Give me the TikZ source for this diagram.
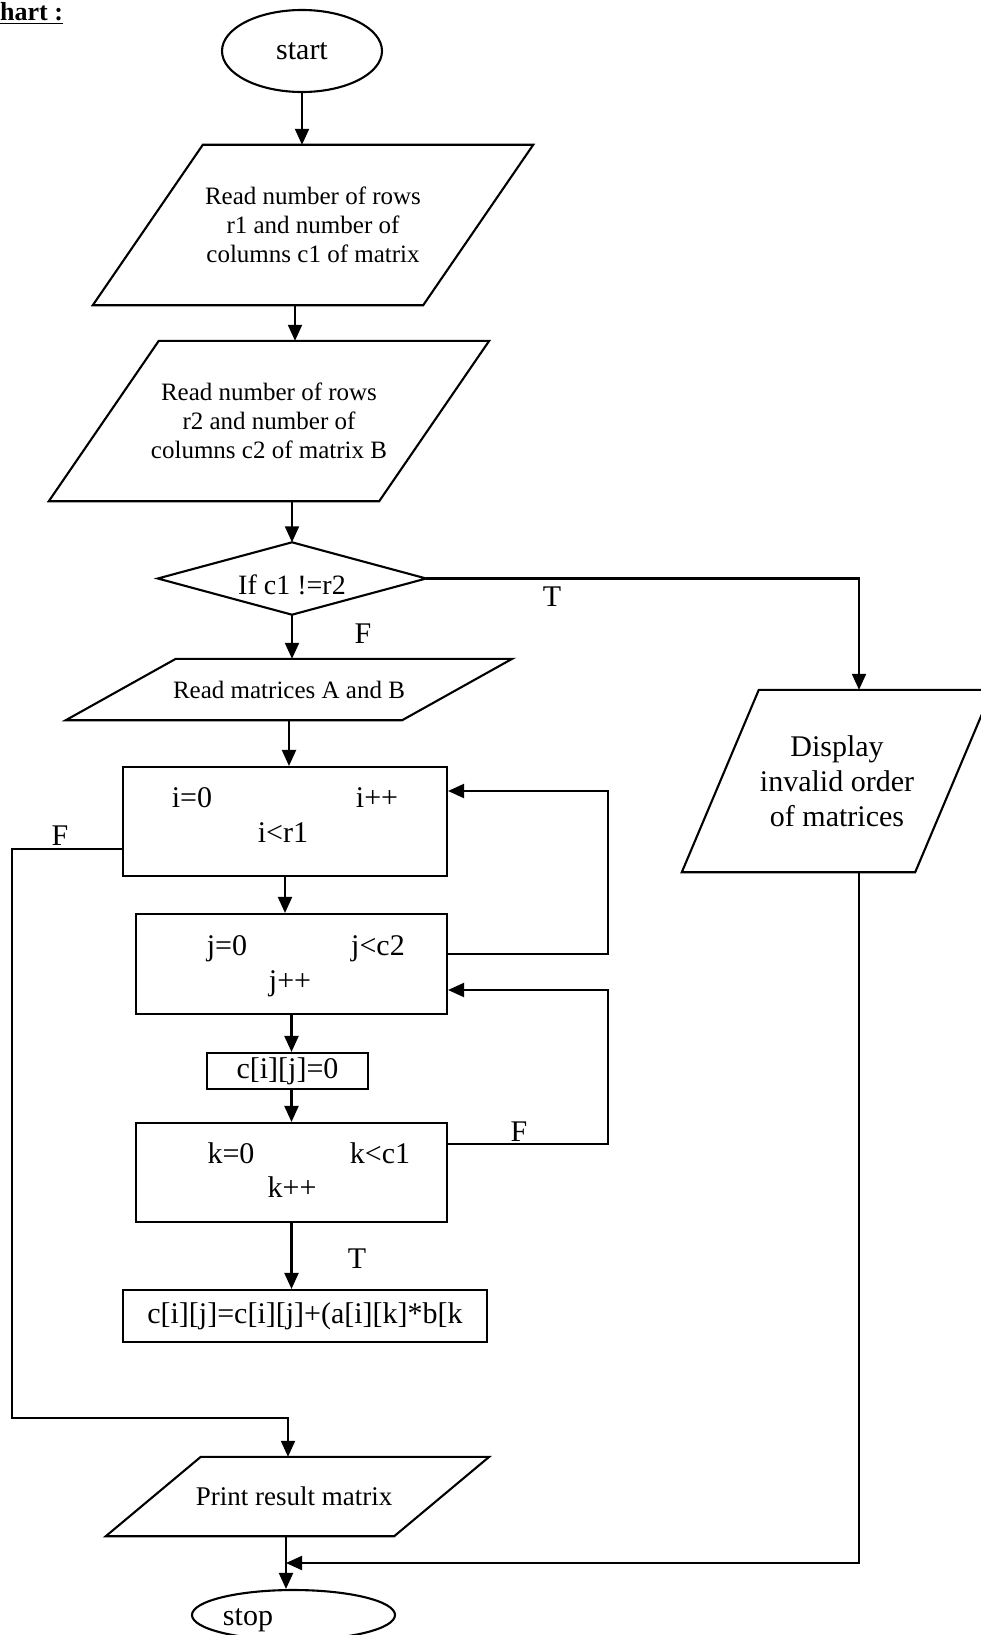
\documentclass[tikz,border=0pt]{standalone}
\usepackage{fontspec}
\setmainfont{Liberation Serif}
\usetikzlibrary{arrows.meta,shapes.geometric}
\newcommand{\paral}[2]{\draw[ln] ([xshift=#2]#1.north west) -- ([xshift=#2]#1.north east) -- ([xshift=-#2]#1.south east) -- ([xshift=-#2]#1.south west) -- cycle;}
\begin{document}
\begin{tikzpicture}[x=1pt,y=-1pt,
  ln/.style={line width=2.1pt},
  arr/.style={ln,-{Triangle[length=16pt,width=14pt]}},
  body/.style={draw=none,inner sep=0pt,align=center},
  boxed/.style={draw,ln,inner sep=0pt,align=center},
  lbl/.style={inner sep=0pt,text height=20pt,text depth=0pt,font=\fontsize{30}{35}\selectfont},
  paratext/.style={body,font=\fontsize{25}{29}\selectfont}
]
\useasboundingbox (0,0) rectangle (981,1635);

% title
\node[anchor=base west,inner sep=0pt,font=\fontsize{26}{30}\selectfont\bfseries] (title) at (0,21) {\underline{hart :}};

% start
\node[ellipse,draw,ln,minimum width=160pt,minimum height=82pt,inner sep=0pt,font=\fontsize{30}{35}\selectfont] (start) at (302,51) {start};

% input 1
\node[paratext,minimum width=330pt,minimum height=160pt] (p1) at (313,225) {Read number of rows\\r1 and number of\\columns c1 of matrix};
\paral{p1}{55pt}

% input 2
\node[paratext,minimum width=330pt,minimum height=160pt] (p2) at (269,421) {Read number of rows\\r2 and number of\\columns c2 of matrix B};
\paral{p2}{55pt}

% decision
\node[body,minimum width=268pt,minimum height=72pt] (dec) at (292,578.5) {};
\draw[ln] (dec.north) -- (dec.east) -- (dec.south) -- (dec.west) -- cycle;
\node[inner sep=0pt,text height=19pt,text depth=0pt,font=\fontsize{28}{32}\selectfont] (dect) at (292,585) {If c1 !=r2};

% read matrices
\node[paratext,minimum width=336pt,minimum height=61pt] (p3) at (289,689.5) {Read matrices A and B};
\paral{p3}{55pt}

% display
\node[body,minimum width=233pt,minimum height=182pt,font=\fontsize{30}{35}\selectfont] (disp) at (837,781) {Display\\invalid order\\of matrices};
\paral{disp}{38.5pt}

% loop i
\node[boxed,minimum width=324pt,minimum height=109pt] (boxi) at (285,821.5) {};
\node[lbl] (ti1) at (192,797) {i=0};
\node[lbl] (ti2) at (377,797) {i++};
\node[lbl] (ti3) at (283,832) {i<r1};

% loop j
\node[boxed,minimum width=311pt,minimum height=100pt] (boxj) at (291.5,964) {};
\node[lbl] (tj1) at (227,945) {j=0};
\node[lbl] (tj2) at (378,945) {j<c2};
\node[lbl] (tj3) at (290,980) {j++};

% c=0
\node[boxed,minimum width=161pt,minimum height=36pt,font=\fontsize{30}{35}\selectfont] (c0) at (287.5,1071) {c[i][j]=0};

% loop k
\node[boxed,minimum width=311pt,minimum height=99pt] (boxk) at (291.5,1172.5) {};
\node[lbl] (tk1) at (231,1153) {k=0};
\node[lbl] (tk2) at (380,1153) {k<c1};
\node[lbl] (tk3) at (292,1187) {k++};

% assignment
\node[boxed,minimum width=364pt,minimum height=52pt,font=\fontsize{30}{35}\selectfont] (asg) at (305,1316) {c[i][j]=c[i][j]+(a[i][k]*b[k};

% print
\node[body,minimum width=288pt,minimum height=79pt,font=\fontsize{27}{31}\selectfont] (print) at (297.5,1496.5) {\hspace*{-7pt}Print result matrix};
\paral{print}{47.5pt}

% stop
\node[ellipse,draw,ln,minimum width=203pt,minimum height=50pt,inner sep=0pt] (stop) at (293.5,1615) {};
\node[lbl] (stopt) at (248,1615) {stop};

% labels
\node[lbl] (lT1) at (552,596) {T};
\node[lbl] (lF1) at (363,633) {F};
\node[lbl] (lF2) at (60,835) {F};
\node[lbl] (lF3) at (519,1131) {F};
\node[lbl] (lT2) at (357,1258) {T};

% helper coordinates
\coordinate (colR) at (859,0);
\coordinate (c295) at (295,0);
\coordinate (lj) at (608,954);
\coordinate (li) at (608,791);
\coordinate (lk) at (608,1144);
\coordinate (lj2) at (608,990);
\coordinate (f1) at (12,849);
\coordinate (f2) at (12,1418);
\coordinate (f3) at (288,1418);
\coordinate (dr) at (859,1563);
\coordinate (jn) at (286,1563);

% connectors
\draw[arr] (start.south) -- (start.south |- p1.north);
\draw[arr] (p1.south -| c295) -- (p2.north -| c295);
\draw[arr] (p2.south -| dec.north) -- (dec.north);
\draw[arr] (dec.south) -- (dec.south |- p3.north);
\draw[arr] (dec.east) -| (disp.north -| colR);
\draw[arr] (p3.south) -- (p3.south |- boxi.north);
\draw[arr] (boxi.south) -- (boxi.south |- boxj.north);
\draw[arr] (boxj.south) -- (boxj.south |- c0.north);
\draw[arr] (boxk.north |- c0.south) -- (boxk.north);
\draw[arr] (boxk.south) -- (boxk.south |- asg.north);
\draw[arr] (lj -| boxj.east) -- (lj) -- (li) -- (li -| boxi.east);
\draw[arr] (lk -| boxk.east) -- (lk) -- (lj2) -- (lj2 -| boxj.east);
\draw[arr] (f1 -| boxi.west) -- (f1) -- (f2) -- (f3) -- (f3 |- print.north);
\draw[arr] (disp.south -| colR) -- (dr) -- (jn);
\draw[arr] (print.south -| jn) -- (stop.north -| jn);
\end{tikzpicture}
\end{document}
